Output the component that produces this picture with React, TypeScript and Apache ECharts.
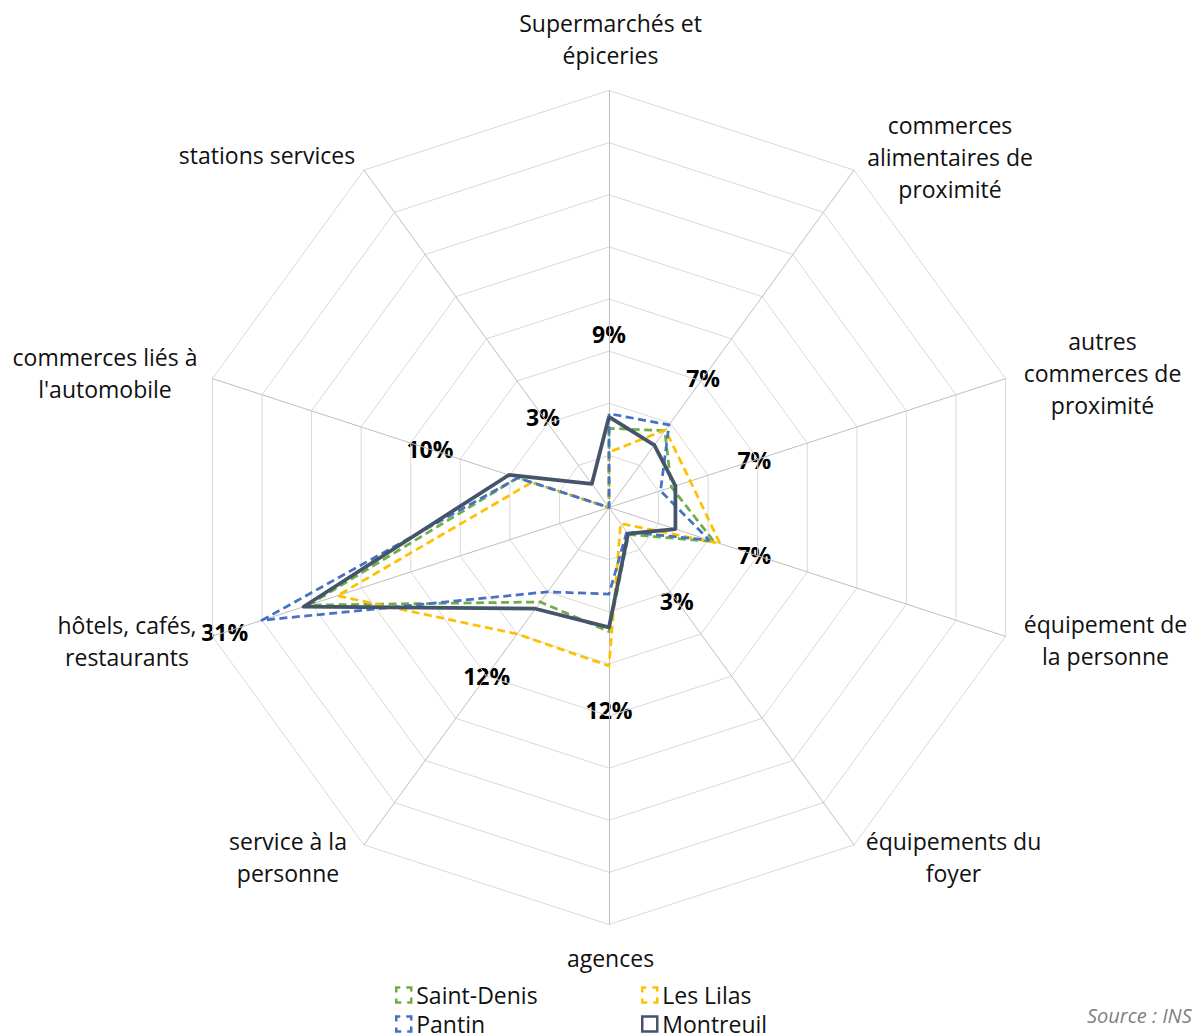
import React, { useEffect, useRef } from 'react';
import * as echarts from 'echarts';

// ---------- data ----------
const CATEGORIES = [
  'Supermarchés et\népiceries',
  'commerces\nalimentaires de\nproximité',
  'autres\ncommerces de\nproximité',
  'équipement de\nla personne',
  'équipements du\nfoyer',
  'agences',
  'service à la\npersonne',
  'hôtels, cafés,\nrestaurants',
  "commerces liés à\nl'automobile",
  'stations services',
];
const SAINT_DENIS = [7.6, 9.1, 6.3, 10.6, 3.2, 11.9, 11.2, 30.3, 9.2, 0];
const LES_LILAS = [5.3, 9.2, 8.2, 11.2, 1.9, 15.2, 15.0, 27.4, 7.8, 0];
const PANTIN = [9.0, 9.8, 5.2, 10.1, 2.9, 8.3, 10.0, 35.0, 9.2, 0];
const MONTREUIL = [8.7, 7.4, 6.7, 6.7, 3.1, 11.5, 12.0, 30.8, 10.1, 2.8];
const AXIS_MAX = 40;
const SPLIT_NUMBER = 8;
const SOURCE_TEXT = 'Source : INSEE';

// ---------- layout / style ----------
const W = 1192;
const H = 1034;
const CX = 609;
const CY = 507.5;
const R = 417;
const FONT = '"Open Sans", "DejaVu Sans", sans-serif';
const NAME_POS = [
  [610.5, 38.5],
  [950, 157],
  [1102.5, 372.5],
  [1105.5, 640],
  [953.5, 856.5],
  [610.5, 958],
  [288, 856.5],
  [127, 641],
  [105, 373],
  [267, 155],
];
const LABEL_GAP = 83;

const SERIES = [
  { name: 'Saint-Denis', data: SAINT_DENIS, color: '#70AD47', dashed: true, legend: [395, 983.5] },
  { name: 'Les Lilas', data: LES_LILAS, color: '#FFC000', dashed: true, legend: [641, 983.5] },
  { name: 'Pantin', data: PANTIN, color: '#4472C4', dashed: true, legend: [395, 1012.5] },
  { name: 'Montreuil', data: MONTREUIL, color: '#44546A', dashed: false, legend: [641, 1012.5] },
];

// ECharts radar places indicators counter-clockwise; reorder so they run clockwise
const ccw = <T,>(a: T[]): T[] => [a[0], ...a.slice(1).reverse()];

export default function App() {
  const ref = useRef<HTMLDivElement>(null);

  useEffect(() => {
    if (!ref.current) return;
    const chart = echarts.init(ref.current, undefined, { renderer: 'svg' });

    const graphics: any[] = [];
    CATEGORIES.forEach((name, i) => {
      const [x, y] = NAME_POS[i];
      graphics.push({
        type: 'text',
        x,
        y,
        style: {
          text: name,
          fill: '#111',
          fontSize: 23,
          fontFamily: FONT,
          lineHeight: 32,
          align: 'center',
          verticalAlign: 'middle',
          textAlign: 'center',
          textVerticalAlign: 'middle',
        },
      });
    });
    MONTREUIL.forEach((v, i) => {
      const a = (i * 2 * Math.PI) / CATEGORIES.length;
      const r = (v / AXIS_MAX) * R + LABEL_GAP;
      graphics.push({
        type: 'text',
        x: CX + r * Math.sin(a),
        y: CY - r * Math.cos(a),
        style: {
          text: `${Math.round(v)}%`,
          fill: '#000',
          fontSize: 23,
          fontWeight: 'bold',
          fontFamily: FONT,
          align: 'center',
          verticalAlign: 'middle',
          textAlign: 'center',
          textVerticalAlign: 'middle',
        },
      });
    });
    graphics.push({
      type: 'text',
      x: 1087,
      y: 1015,
      style: {
        text: SOURCE_TEXT,
        fill: '#7f7f7f',
        fontSize: 20,
        fontStyle: 'italic',
        fontFamily: FONT,
        align: 'left',
        verticalAlign: 'middle',
        textAlign: 'left',
        textVerticalAlign: 'middle',
      },
    });

    const option: any = {
      animation: false,
      backgroundColor: '#ffffff',
      textStyle: { fontFamily: FONT },
      radar: {
        center: [CX, CY],
        radius: R,
        startAngle: 90,
        splitNumber: SPLIT_NUMBER,
        shape: 'polygon',
        indicator: ccw(CATEGORIES).map((name) => ({ name, min: 0, max: AXIS_MAX })),
        axisName: { show: false },
        splitLine: { lineStyle: { color: '#d9d9d9', width: 1 } },
        splitArea: { show: false },
        axisLine: { lineStyle: { color: '#bfbfbf', width: 1 } },
        axisTick: { show: false },
        axisLabel: { show: false },
      },
      legend: SERIES.map((s) => ({
        left: s.legend[0],
        top: s.legend[1],
        padding: 0,
        icon: 'rect',
        itemWidth: 15,
        itemHeight: 15,
        selectedMode: false,
        textStyle: { fontSize: 23, fontFamily: FONT, color: '#111' },
        data: [
          {
            name: s.name,
            itemStyle: {
              color: '#ffffff',
              borderColor: s.color,
              borderWidth: 2.5,
              borderType: s.dashed ? [9, 6] : 'solid',
              borderDashOffset: s.dashed ? 4.5 : 0,
            },
          },
        ],
      })),
      series: SERIES.map((s) => ({
        type: 'radar',
        name: s.name,
        symbol: 'none',
        z: s.dashed ? 2 : 3,
        lineStyle: {
          color: s.color,
          width: s.dashed ? 2.75 : 3.75,
          type: s.dashed ? [8, 4.5] : 'solid',
        },
        itemStyle: { color: s.color },
        data: [{ name: s.name, value: ccw(s.data) }],
      })),
      graphic: graphics,
    };

    chart.setOption(option);
    return () => chart.dispose();
  }, []);

  return (
    <div
      ref={ref}
      style={{ position: 'absolute', left: 0, top: 0, width: W, height: H, background: '#fff' }}
    />
  );
}
